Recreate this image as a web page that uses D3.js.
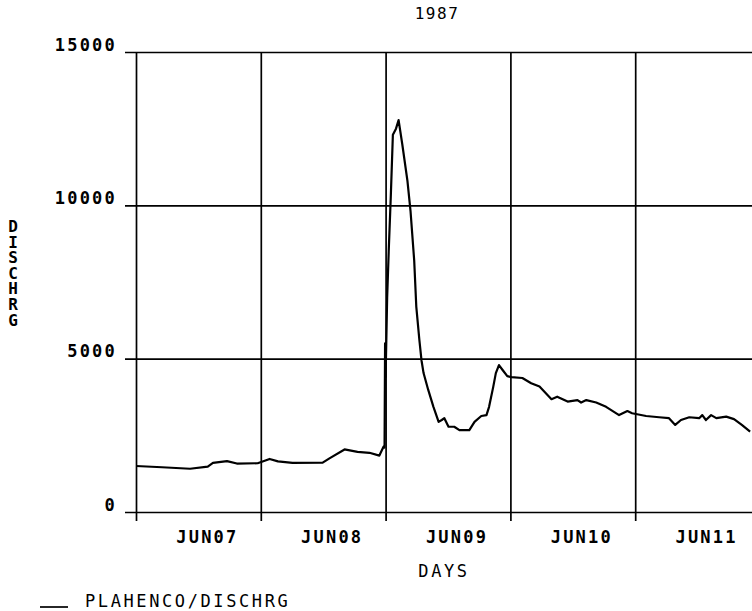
<!DOCTYPE html>
<html>
<head>
<meta charset="utf-8">
<script src="https://cdn.jsdelivr.net/npm/d3@7"></script>
<style>
  body { margin: 0; background: #fff; }
  svg { display: block; }
  text { font-family: "DejaVu Sans Mono", monospace; fill: #000; font-weight: bold; }
</style>
</head>
<body>
<div id="chart"></div>
<script>
// hours after 1987-06-07 00:00, and discharge
const hours = [0, 5.0, 10.4, 13.8, 14.8, 17.5, 19.4, 23.4, 25.7, 27.3, 30.1, 35.9, 37.2, 40.1, 42.6, 44.9, 46.8, 47.6,
  47.8, 47.9, 48.0, 48.3, 48.6, 49.0, 49.4, 50.0, 50.5, 51.2, 52.2, 52.8, 53.5, 53.9, 54.5, 54.9, 55.3, 56.2, 57.2,
  58.2, 58.8, 59.3, 60.1, 61.2, 62.2, 64.1, 65.1, 66.4, 67.4, 67.9, 68.7, 69.2, 69.8, 70.5, 71.4, 72.2, 74.3, 76.0,
  77.6, 79.9, 81.0, 83.0, 84.9, 85.6, 86.6, 88.5, 90.4, 92.9, 94.5, 95.4, 98.1, 100.6, 102.5, 103.7, 104.8, 106.4,
  108.3, 108.9, 109.6, 110.6, 111.6, 113.5, 115.0, 116.5, 118.1];
const discharge = [1500, 1460, 1410, 1480, 1600, 1660, 1580, 1590, 1730, 1650, 1600, 1610, 1750, 2040, 1960, 1930, 1840, 2130,
  2100, 5500, 4400, 7000, 8500, 10300, 12300, 12500, 12780, 12000, 10800, 9800, 8200, 6700, 5600, 4950, 4530, 3980, 3430,
  2940, 3000, 3060, 2780, 2780, 2670, 2670, 2940, 3130, 3160, 3430, 4080, 4530, 4790, 4630, 4430, 4400, 4370, 4200,
  4090, 3680, 3760, 3600, 3650, 3570, 3650, 3570, 3430, 3160, 3290, 3220, 3130, 3090, 3060, 2840, 3000, 3090,
  3060, 3160, 3000, 3160, 3060, 3110, 3030, 2840, 2620];

const yTicks = [0, 5000, 10000, 15000];
const dayLabels = ["JUN07", "JUN08", "JUN09", "JUN10", "JUN11"];
const yTitle = "DISCHRG";
const legendName = "PLAHENCO/DISCHRG";

let width = 752,
  height = 611;

let start = new Date(1987, 5, 7);
let days = d3.range(dayLabels.length).map(i => d3.timeDay.offset(start, i));

let x = d3.scaleTime()
  .domain([start, d3.timeDay.offset(start, 5)])
  .range([136, 760]);

let y = d3.scaleLinear()
  .domain([0, 15000])
  .range([512, 52]);

let svg = d3.select("#chart")
  .append("svg")
  .attr("width", width)
  .attr("height", height);

let data = hours.map((h, i) => ({ t: d3.timeMinute.offset(start, Math.round(h * 60)), v: discharge[i] }));

// horizontal grid + y labels
let yAxis = svg.append("g")
  .attr("transform", "translate(136,0)")
  .call(d3.axisLeft(y).tickValues(yTicks).tickSize(-(width - 136)).tickFormat(d3.format("d")));
yAxis.select(".domain").remove();
yAxis.selectAll(".tick line")
  .attr("x1", -11)
  .attr("stroke", "#000")
  .attr("stroke-width", 1.7);
yAxis.selectAll(".tick text")
  .attr("x", -19)
  .attr("dy", "-2px")
  .style("font-size", "17px")
  .style("letter-spacing", "2.2px")
  .style("font-family", "DejaVu Sans Mono, monospace");

// vertical grid at day boundaries
let xAxis = svg.append("g")
  .attr("transform", "translate(0,52)")
  .call(d3.axisBottom(x).tickValues(days).tickSize(469).tickFormat(""));
xAxis.select(".domain").remove();
xAxis.selectAll(".tick line")
  .attr("stroke", "#000")
  .attr("stroke-width", 1.7);

// day labels
svg.append("g")
  .selectAll("text")
  .data(days)
  .join("text")
  .attr("x", d => x(d3.timeHour.offset(d, 12)) + 9)
  .attr("y", 543)
  .attr("text-anchor", "middle")
  .style("font-size", "17px")
  .style("letter-spacing", "2.2px")
  .text((d, i) => dayLabels[i]);

// the series
svg.append("path")
  .datum(data)
  .attr("fill", "none")
  .attr("stroke", "#000")
  .attr("stroke-width", 2.2)
  .attr("stroke-linejoin", "round")
  .attr("d", d3.line().x(d => x(d.t)).y(d => y(d.v)));

// title
svg.append("text")
  .attr("x", 437)
  .attr("y", 19)
  .attr("text-anchor", "middle")
  .style("font-size", "16px")
  .style("font-weight", "normal")
  .style("letter-spacing", "1.5px")
  .text("1987");

// x title
svg.append("text")
  .attr("x", 444)
  .attr("y", 577)
  .attr("text-anchor", "middle")
  .style("font-size", "17px")
  .style("font-weight", "normal")
  .style("letter-spacing", "2.6px")
  .text("DAYS");

// y title, letters stacked upright
svg.append("text")
  .attr("x", 13)
  .attr("y", 217)
  .style("writing-mode", "vertical-rl")
  .style("text-orientation", "upright")
  .style("font-size", "16px")
  .style("letter-spacing", "-3.4px")
  .text(yTitle);

// legend
svg.append("line")
  .attr("x1", 40)
  .attr("x2", 68)
  .attr("y1", 607)
  .attr("y2", 607)
  .attr("stroke", "#000")
  .attr("stroke-width", 1.7);

svg.append("text")
  .attr("x", 85)
  .attr("y", 607)
  .style("font-size", "17px")
  .style("font-weight", "normal")
  .style("letter-spacing", "2.6px")
  .text(legendName);
</script>
</body>
</html>
